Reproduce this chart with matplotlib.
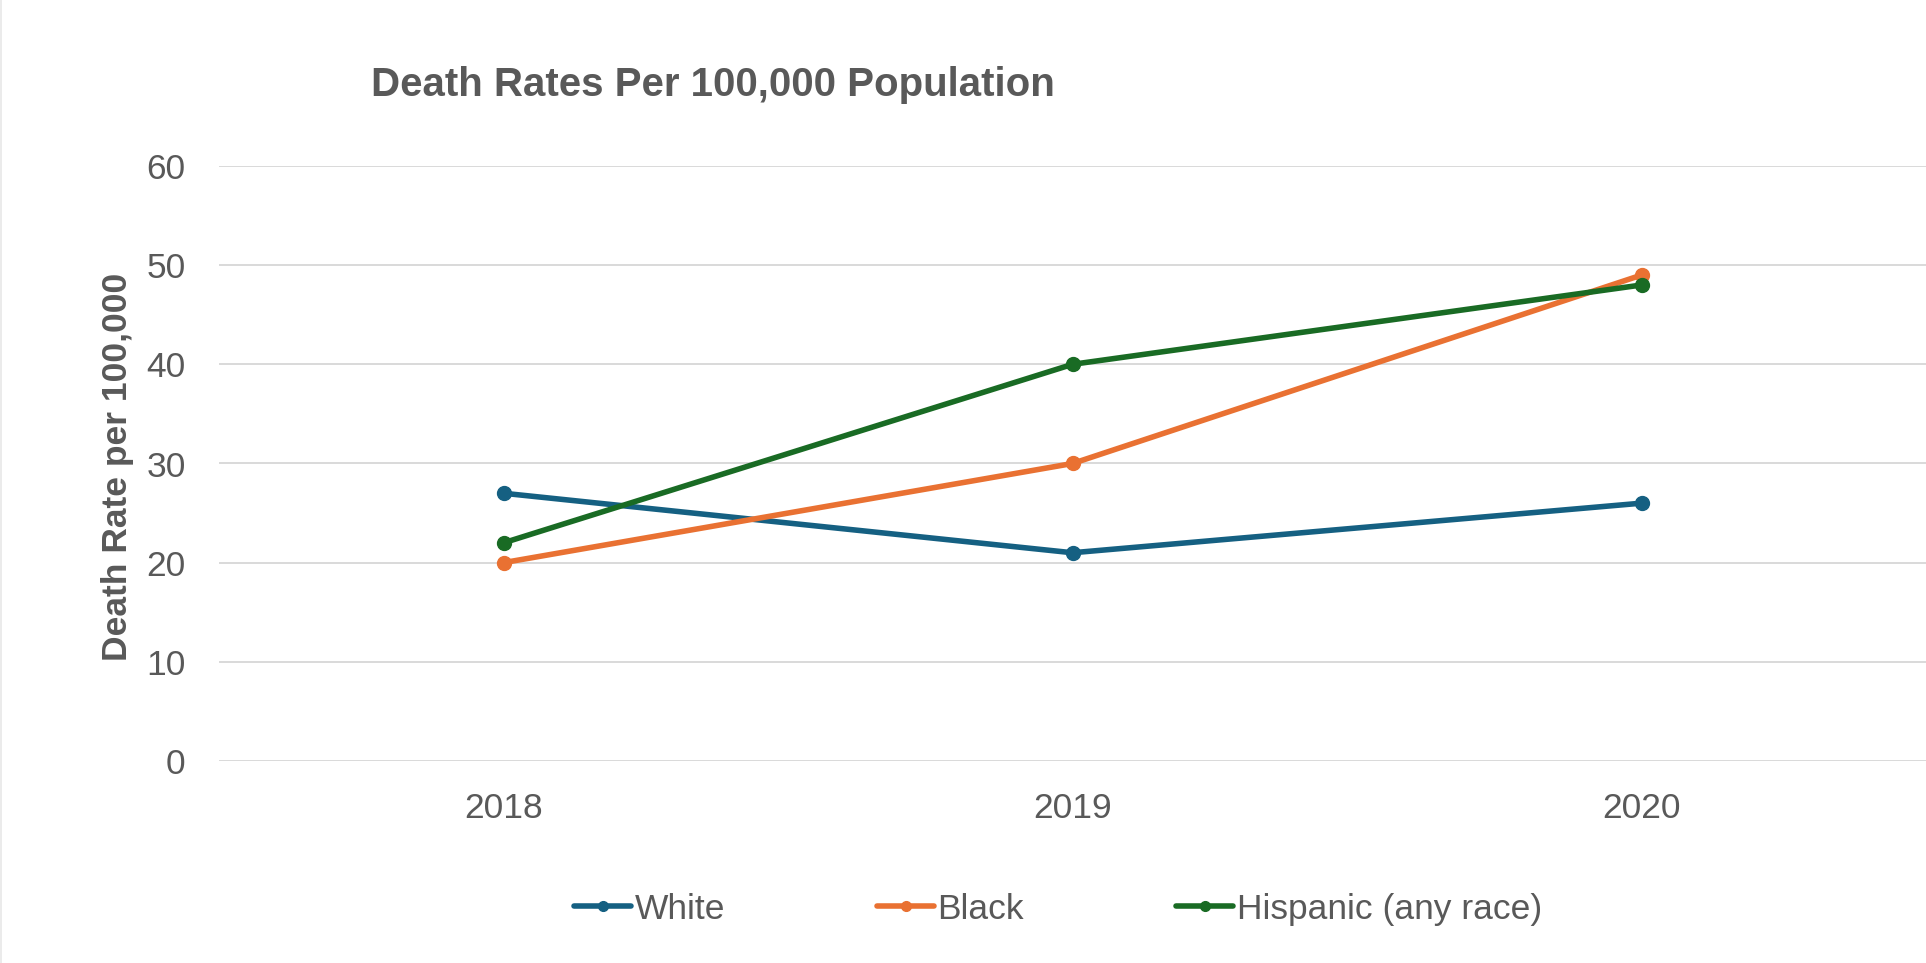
import matplotlib
matplotlib.use("Agg")
import matplotlib.pyplot as plt
from matplotlib.lines import Line2D

years = ["2018", "2019", "2020"]
white = [27, 21, 26]
black = [20, 30, 49]
hispanic = [22, 40, 48]
series_names = ["White", "Black", "Hispanic (any race)"]
colors = ["#156082", "#E97132", "#196B24"]
yticks = [0, 10, 20, 30, 40, 50, 60]

plt.rcParams['font.family'] = ['Liberation Sans', 'DejaVu Sans']
text_color = "#595959"

W, H = 1926, 963
fig = plt.figure(figsize=(W / 100, H / 100), dpi=100)
ax = fig.add_axes([219 / W, 1 - 761 / H, 1 - 219 / W, (761 - 166) / H])

x = list(range(len(years)))
for vals, name, c in zip([white, black, hispanic], series_names, colors):
    ax.plot(x, vals, color=c, lw=4.0, marker='o', markersize=10, label=name,
            solid_capstyle='round', zorder=3)

ax.set_xlim(-0.5, len(years) - 0.5)
ax.set_ylim(0, 60)
ax.set_yticks(yticks)
ax.set_yticklabels([str(v) for v in yticks])
ax.set_xticks(x)
ax.set_xticklabels(years)
ax.grid(axis='y', color='#D9D9D9', lw=1.4, zorder=0)
ax.set_axisbelow(True)
for s in ax.spines.values():
    s.set_visible(False)
ax.tick_params(axis='both', length=0, labelsize=25.5, colors=text_color)
ax.tick_params(axis='y', pad=24)
ax.tick_params(axis='x', pad=22)

fig.text(371 / W, 1 - 96 / H, "Death Rates Per 100,000 Population", fontsize=29,
         fontweight='bold', color=text_color, ha='left', va='baseline')
fig.text(117 / W, 1 - 467 / H, "Death Rate per 100,000", fontsize=25.5,
         fontweight='bold', color=text_color, rotation=90, ha='center', va='center')

leg = fig.legend(loc='center', bbox_to_anchor=(1058 / W, 1 - 909 / H), ncol=3,
                 frameon=False, fontsize=25.5, handlelength=1.6, handletextpad=0.1,
                 columnspacing=4.3, numpoints=1, markerscale=0.7)
for t in leg.get_texts():
    t.set_color(text_color)

fig.add_artist(Line2D([0.5 / W, 0.5 / W], [0, 1], color='#E8E8E8', lw=1.2))

fig.savefig("out.png", dpi=100)
